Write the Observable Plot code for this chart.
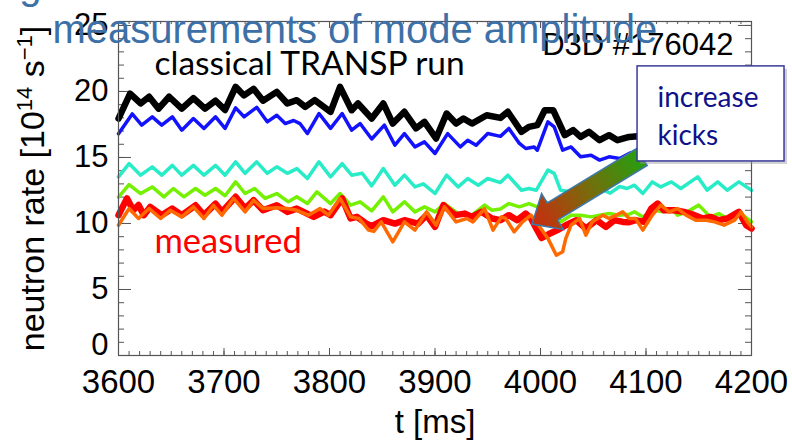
<!DOCTYPE html>
<html><head><meta charset="utf-8">
<script src="https://cdn.jsdelivr.net/npm/d3@7"></script>
<script src="https://cdn.jsdelivr.net/npm/@observablehq/plot@0.6"></script>
<style>
body{margin:0;background:#fff;}
#chart{width:792px;height:441px;overflow:hidden;}
</style></head><body><div id="chart"></div>
<script>
// ---- data (t [ms], neutron rate [1e14 /s]) ----
const classicalRun = [[3600,17.95],[3611,19.84],[3621,19.09],[3629,19.6],[3638,18.7],[3648,19.6],[3660,18.7],[3671,19.5],[3682,18.7],[3692,19.3],[3701,18.6],[3711,20.35],[3719,19.7],[3728,20.2],[3737,19.3],[3750,19.97],[3760,19.09],[3769,19.34],[3777,18.83],[3786,19.34],[3801,18.46],[3810,20.35],[3821,18.58],[3827,19.09],[3840,17.95],[3851,19.09],[3860,17.57],[3871,18.46],[3882,17.2],[3890,17.7],[3901,16.44],[3911,18.33],[3920,17.57],[3927,17.95],[3935,17.57],[3949,18.2],[3962,18.0],[3969,18.46],[3982,16.94],[3989,17.32],[3997,17.45],[4004,18.58],[4012,18.58],[4023,16.69],[4031,17.07],[4038,16.56],[4046,16.94],[4056,16.31],[4065,16.69],[4073,16.31],[4084,16.56],[4092,16.6],[4100,16.3],[4110,16.9],[4120,16.4],[4130,16.8],[4140,16.2],[4150,16.7],[4160,16.3],[4170,16.6],[4180,16.2],[4190,16.5],[4200,16.3]];
const blueRun = [[3600,16.8],[3613,18.3],[3622,17.45],[3632,18.08],[3641,17.45],[3651,18.08],[3660,17.07],[3671,17.95],[3681,17.2],[3692,18.08],[3701,17.2],[3711,18.76],[3719,18.08],[3731,18.8],[3741,17.7],[3750,18.2],[3758,17.57],[3766,17.8],[3772,17.57],[3779,16.81],[3790,18.33],[3801,17.2],[3812,18.33],[3821,17.07],[3829,17.57],[3840,16.4],[3852,17.45],[3862,15.93],[3871,16.81],[3881,15.8],[3890,16.18],[3900,15.3],[3912,16.81],[3924,15.8],[3931,16.31],[3939,15.93],[3950,16.81],[3962,16.6],[3970,17.2],[3980,16.06],[3986,15.68],[3994,15.8],[3997,15.55],[4007,17.7],[4013,17.32],[4021,15.55],[4029,15.8],[4038,15.05],[4048,15.17],[4056,14.8],[4065,15.05],[4075,14.92],[4084,15.3],[4092,15.5],[4100,15.3],[4110,15.8],[4120,15.4],[4130,15.9],[4140,15.3],[4150,15.8],[4160,15.4],[4170,15.7],[4180,15.2],[4190,15.6],[4200,15.4]];
const cyanRun = [[3600,13.53],[3610,14.54],[3621,13.66],[3632,14.29],[3641,13.66],[3651,14.4],[3660,13.66],[3671,14.4],[3681,13.66],[3692,14.4],[3701,13.66],[3711,14.67],[3720,13.8],[3731,14.67],[3741,13.8],[3750,14.29],[3760,13.8],[3769,14.16],[3779,13.4],[3790,14.67],[3801,13.53],[3812,14.54],[3821,13.66],[3831,13.8],[3840,12.85],[3851,14.16],[3862,12.9],[3871,13.66],[3881,12.77],[3889,13.0],[3900,12.27],[3911,13.66],[3922,12.77],[3931,13.41],[3941,12.9],[3950,13.41],[3962,13.1],[3969,13.66],[3982,12.52],[3989,12.65],[3996,12.52],[4007,14.04],[4013,13.8],[4019,12.52],[4030,12.4],[4040,12.7],[4050,12.5],[4058,12.6],[4066,12.3],[4075,12.8],[4082,12.65],[4089,12.9],[4097,12.27],[4106,13.15],[4114,12.77],[4124,13.15],[4133,12.65],[4149,13.53],[4158,12.52],[4168,13.15],[4177,12.52],[4188,13.15],[4200,12.52]];
const greenRun = [[3600,12.0],[3610,12.95],[3621,12.27],[3632,12.77],[3643,12.02],[3652,12.65],[3662,12.02],[3673,12.65],[3682,12.14],[3692,12.65],[3701,12.1],[3711,13.15],[3720,12.27],[3729,12.65],[3739,11.9],[3750,12.27],[3761,11.64],[3769,12.02],[3779,11.51],[3788,12.4],[3801,11.51],[3810,12.27],[3820,11.39],[3829,11.64],[3840,10.95],[3851,12.02],[3860,10.88],[3871,11.64],[3881,10.88],[3890,11.26],[3900,10.88],[3909,11.51],[3922,10.75],[3935,10.63],[3947,11.39],[3954,11.0],[3962,11.1],[3970,11.51],[3980,11.26],[3989,11.51],[3997,11.26],[4005,11.64],[4012,11.2],[4019,10.12],[4029,10.63],[4038,10.63],[4048,10.5],[4056,10.63],[4065,10.75],[4075,10.63],[4084,10.7],[4089,10.88],[4097,10.5],[4108,11.0],[4116,10.88],[4124,11.13],[4130,10.63],[4139,10.88],[4150,11.39],[4161,10.5],[4169,10.75],[4177,10.38],[4188,10.88],[4200,10.12]];
const measured = [[3600,10.63],[3608,11.9],[3614,11.0],[3619,11.4],[3624,10.63],[3630,11.26],[3641,10.63],[3651,11.13],[3660,10.63],[3673,11.38],[3681,10.63],[3692,11.5],[3698,10.88],[3711,12.02],[3720,11.13],[3728,11.76],[3737,11.0],[3750,11.38],[3760,10.88],[3769,11.13],[3785,10.5],[3795,10.9],[3801,10.63],[3812,11.9],[3820,10.38],[3826,10.5],[3835,9.99],[3840,9.8],[3851,10.25],[3862,9.99],[3871,10.25],[3884,9.99],[3892,10.63],[3900,9.74],[3908,11.39],[3919,10.63],[3928,10.75],[3935,10.5],[3944,10.88],[3954,10.38],[3962,10.25],[3970,10.63],[3978,10.25],[3986,10.75],[3991,10.38],[3996,9.62],[4001,8.9],[4008,9.2],[4016,9.5],[4024,9.87],[4034,10.25],[4043,9.62],[4053,10.25],[4062,9.74],[4070,10.25],[4078,10.12],[4084,10.1],[4090,10.25],[4098,10.12],[4105,11.13],[4111,11.51],[4117,11.0],[4127,11.0],[4136,10.88],[4146,10.63],[4154,10.38],[4161,10.5],[4169,10.25],[4177,10.38],[4188,10.88],[4195,9.87],[4200,9.62]];
const orangeRun = [[3600,9.87],[3610,11.13],[3619,10.38],[3629,11.13],[3640,10.38],[3649,11.0],[3660,10.5],[3671,11.26],[3681,10.38],[3690,11.38],[3698,10.63],[3709,11.9],[3720,10.88],[3728,11.76],[3737,11.13],[3750,11.2],[3760,11.13],[3769,11.0],[3780,10.63],[3791,11.13],[3799,10.63],[3810,11.9],[3820,10.5],[3828,10.38],[3837,9.5],[3842,9.4],[3849,10.12],[3860,8.61],[3871,10.12],[3881,9.5],[3892,10.88],[3901,9.87],[3909,11.26],[3920,10.12],[3930,10.38],[3936,10.12],[3947,11.13],[3955,9.5],[3963,10.5],[3967,10.38],[3975,9.37],[3983,10.12],[3991,10.63],[3996,10.12],[4007,8.87],[4015,7.6],[4021,7.86],[4024,8.87],[4029,9.87],[4037,10.38],[4043,9.11],[4049,10.12],[4059,10.63],[4065,10.38],[4072,10.63],[4078,10.88],[4084,10.38],[4090,10.38],[4097,9.5],[4106,10.63],[4114,11.39],[4122,10.88],[4130,11.13],[4138,10.63],[4147,10.25],[4157,10.25],[4165,10.12],[4174,9.87],[4184,10.25],[4190,10.88],[4196,10.12],[4200,9.74]];

const seriesList = [classicalRun, blueRun, cyanRun, greenRun, measured, orangeRun];
const seriesColors = ["#000000", "#1212ff", "#28ecc8", "#74f000", "#ff0000", "#ff6a00"];
const seriesWidths = [6.5, 3.5, 3.5, 3.5, 6.5, 3.5];

const xTickLabels = [3600, 3700, 3800, 3900, 4000, 4100, 4200];
const yTickLabels = [0, 5, 10, 15, 20, 25];
const xMinorTicks = d3.range(3600, 4201, 10);
const yMinorTicks = d3.range(0, 26, 1);

// annotation anchors in data coordinates
const arrowTail = [4096.7, 15.0];
const arrowTip = [3992.4, 9.92];
const kickBox = [{x1: 4092, x2: 4231.3, y1: 14.7, y2: 21.9}];

// ---- layout ----
const W = 792, H = 441, mL = 118, mR = 41, mT = 21, mB = 86;
const pw = W - mL - mR, ph = H - mT - mB;
const axisColor = "#555";
const sans = "Liberation Sans, Arial, Helvetica, sans-serif";
const lato = "Lato, Calibri, sans-serif";
const yTitlePlaceholder = "YTITLE_PLACEHOLDER";

function arrowMark(index, scales) {
  const tx = scales.x(arrowTail[0]), ty = scales.y(arrowTail[1]);
  const px = scales.x(arrowTip[0]), py = scales.y(arrowTip[1]);
  const len = Math.hypot(px - tx, py - ty);
  const ux = (px - tx) / len, uy = (py - ty) / len;
  const nx = -uy, ny = ux;
  const hw = 10, hh = 21, hl = 24;
  const bx = px - ux * hl, by = py - uy * hl;
  const pts = [
    [tx + nx * hw, ty + ny * hw], [bx + nx * hw, by + ny * hw], [bx + nx * hh, by + ny * hh],
    [px, py], [bx - nx * hh, by - ny * hh], [bx - nx * hw, by - ny * hw], [tx - nx * hw, ty - ny * hw]
  ];
  const g = d3.create("svg:g");
  const grad = g.append("defs").append("linearGradient").attr("id", "kickGrad")
    .attr("gradientUnits", "userSpaceOnUse")
    .attr("x1", tx).attr("y1", ty).attr("x2", px).attr("y2", py);
  grad.append("stop").attr("offset", "0%").attr("stop-color", "#23a010");
  grad.append("stop").attr("offset", "50%").attr("stop-color", "#7a6a0c");
  grad.append("stop").attr("offset", "100%").attr("stop-color", "#cc2a10");
  g.append("path").attr("d", "M" + pts.map(p => p.join(",")).join("L") + "Z")
    .attr("fill", "url(#kickGrad)").attr("stroke", "#3f78a8").attr("stroke-width", 1.5)
    .attr("stroke-linejoin", "miter");
  return g.node();
}

const marks = [
  // ticks (inward, IDL-style)
  Plot.tickX(xMinorTicks, {x: d => d, insetTop: ph - 4, stroke: axisColor}),
  Plot.tickX(xMinorTicks, {x: d => d, insetBottom: ph - 3, stroke: axisColor}),
  Plot.tickX(xTickLabels, {x: d => d, insetTop: ph - 7, stroke: axisColor}),
  Plot.tickX(xTickLabels, {x: d => d, insetBottom: ph - 7, stroke: axisColor}),
  Plot.tickY(yMinorTicks, {y: d => d, insetRight: pw - 6, stroke: axisColor}),
  Plot.tickY(yMinorTicks, {y: d => d, insetLeft: pw - 6, stroke: axisColor}),
  Plot.tickY(yTickLabels, {y: d => d, insetRight: pw - 13, stroke: axisColor}),
  Plot.tickY(yTickLabels, {y: d => d, insetLeft: pw - 13, stroke: axisColor}),
  ...seriesList.map((s, i) => Plot.line(s, {x: d => d[0], y: d => d[1], stroke: seriesColors[i], strokeWidth: seriesWidths[i]})),
  Plot.frame({stroke: axisColor, strokeWidth: 1.2}),
  // tick labels
  Plot.text(xTickLabels, {x: d => d, frameAnchor: "bottom", dy: 37, text: d => String(d), fontSize: 33, fontFamily: sans, fill: "black"}),
  Plot.text(yTickLabels.filter(d => d > 0), {y: d => d, frameAnchor: "left", dx: -10, textAnchor: "end", text: d => String(d), fontSize: 31, fontFamily: sans, fill: "black"}),
  Plot.text(yTickLabels.filter(d => d === 0), {y: d => d, frameAnchor: "left", dx: -10, dy: -10, textAnchor: "end", text: d => String(d), fontSize: 31, fontFamily: sans, fill: "black"}),
  Plot.text(["t [ms]"], {frameAnchor: "bottom", dy: 77, textAnchor: "middle", fontSize: 33, fontFamily: sans, fill: "black"}),
  Plot.text([yTitlePlaceholder], {frameAnchor: "left", dx: -85, rotate: -90, textAnchor: "middle", fontSize: 34, fontFamily: sans, fill: "black"}),
  // annotations
  Plot.text(["classical TRANSP run"], {x: 3634.1, y: 22.09, textAnchor: "start", fontSize: 33.5, fontFamily: lato, fill: "black"}),
  Plot.text(["measured"], {x: 3634.1, y: 8.61, textAnchor: "start", fontSize: 34.5, fontFamily: lato, fill: "#ff0000"}),
  Plot.text(["D3D #176042"], {x: 4183, y: 23.48, textAnchor: "end", fontSize: 31, fontFamily: sans, fill: "black"}),
  arrowMark,
  Plot.rect(kickBox, {x1: "x1", x2: "x2", y1: "y1", y2: "y2", fill: "#9a9a9a", fillOpacity: 0.45, dx: 3, dy: 3}),
  Plot.rect(kickBox, {x1: "x1", x2: "x2", y1: "y1", y2: "y2", fill: "white", stroke: "#3a3a9c", strokeWidth: 1.5}),
  Plot.text(["increase"], {x: 4110.9, y: 19.47, textAnchor: "start", fontSize: 28, fontFamily: lato, fill: "#10108a"}),
  Plot.text(["kicks"], {x: 4110.9, y: 16.59, textAnchor: "start", fontSize: 28, fontFamily: lato, fill: "#10108a"}),
  Plot.text(["measurements of mode amplitude"], {x: 3537.4, y: 24.61, textAnchor: "start", fontSize: 40, fontFamily: sans, fill: "#3d70a6"}),
  Plot.text(["g"], {x: 3506, y: 27.98, textAnchor: "start", fontSize: 40, fontFamily: sans, fill: "#3d70a6"})
];

const chart = Plot.plot({
  width: W, height: H,
  marginLeft: mL, marginRight: mR, marginTop: mT, marginBottom: mB,
  x: {domain: [3600, 4200], axis: null},
  y: {domain: [0, 25.3], axis: null},
  style: {background: "white", fontFamily: sans, overflow: "hidden"},
  marks
});
document.getElementById("chart").appendChild(chart);

// superscripts for the y title
const yt = Array.from(chart.querySelectorAll("text")).find(t => t.textContent === yTitlePlaceholder);
if (yt) {
  while (yt.firstChild) yt.removeChild(yt.firstChild);
  const add = (s, mode) => {
    const ts = document.createElementNS("http://www.w3.org/2000/svg", "tspan");
    ts.textContent = s;
    if (mode === "up") { ts.setAttribute("dy", "-12"); ts.setAttribute("font-size", "22"); }
    else if (mode === "down") { ts.setAttribute("dy", "12"); }
    yt.appendChild(ts);
  };
  add("neutron rate [10"); add("14", "up"); add(" s", "down"); add("\u22121", "up"); add("]", "down");
}
</script></body></html>
